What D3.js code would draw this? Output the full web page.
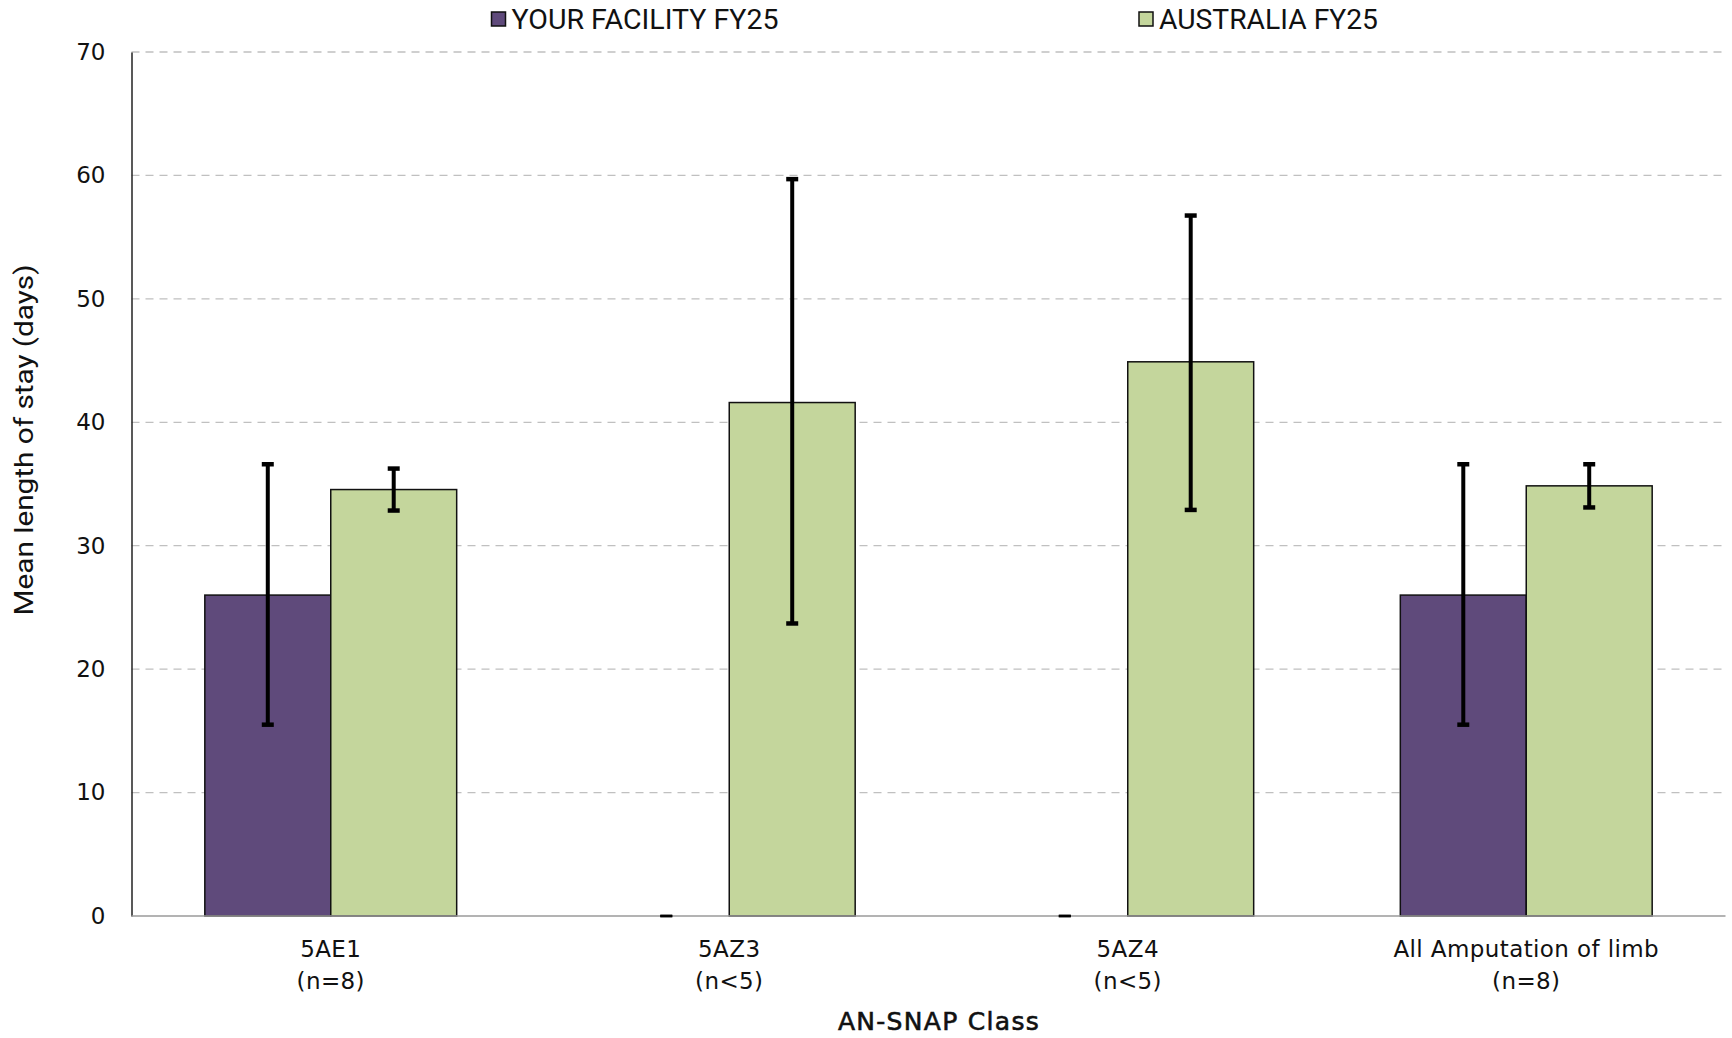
<!DOCTYPE html>
<html><head><meta charset="utf-8">
<script src="https://cdn.jsdelivr.net/npm/d3@7"></script>
<style>
html,body{margin:0;padding:0;background:#fff;}
svg{display:block;}
</style></head>
<body>
<script>
const categories = ["5AE1", "5AZ3", "5AZ4", "All Amputation of limb"];
const categoryCounts = ["(n=8)", "(n<5)", "(n<5)", "(n=8)"];
const seriesNames = ["YOUR FACILITY FY25", "AUSTRALIA FY25"];
const facilityValues = [26, 0, 0, 26];
const facilityLow = [15.5, 0, 0, 15.5];
const facilityHigh = [36.6, 0, 0, 36.6];
const australiaValues = [34.55, 41.6, 44.9, 34.85];
const australiaLow = [32.85, 23.7, 32.9, 33.1];
const australiaHigh = [36.25, 59.7, 56.75, 36.6];
const yTicks = [0, 10, 20, 30, 40, 50, 60, 70];
const colors = ["#5f4a7b", "#c4d69c"];

const W = 1732, H = 1038;
const m = {left: 131.5, right: 1725.5, top: 52, bottom: 916};
const svg = d3.select("body").append("svg").attr("width", W).attr("height", H);

const x0 = d3.scaleBand().domain(categories).range([m.left, m.right]).paddingInner(0.368).paddingOuter(0.184);
const x1 = d3.scaleBand().domain(seriesNames).range([0, x0.bandwidth()]);
const y = d3.scaleLinear().domain([0, 70]).range([m.bottom, m.top]);

const fontWide = "'DejaVu Sans', 'Lato', sans-serif";
const fontCond = "'Roboto', 'Liberation Sans Narrow', sans-serif";

// gridlines
svg.append("g").selectAll("line").data(yTicks.filter(d => d > 0)).join("line")
  .attr("x1", m.left).attr("x2", m.right)
  .attr("y1", d => y(d)).attr("y2", d => y(d))
  .attr("stroke", "#c0c0c0").attr("stroke-width", 1.3).attr("stroke-dasharray", "8,6");

// y axis
const yAxis = d3.axisLeft(y).tickValues(yTicks).tickSize(0).tickPadding(26).tickFormat(d3.format("d"));
const gy = svg.append("g").attr("transform", `translate(${m.left},0)`).call(yAxis);
gy.select(".domain").attr("stroke", "#222").attr("stroke-width", 1.5);
gy.selectAll("text").attr("font-family", fontWide).attr("font-size", 23).attr("fill", "#111");

const series = [
  {name: seriesNames[0], vals: facilityValues, lo: facilityLow, hi: facilityHigh, color: colors[0]},
  {name: seriesNames[1], vals: australiaValues, lo: australiaLow, hi: australiaHigh, color: colors[1]}
];

const rows = [];
series.forEach(s => categories.forEach((c, i) => rows.push({c, s: s.name, v: s.vals[i], lo: s.lo[i], hi: s.hi[i], color: s.color})));

// bars
svg.append("g").selectAll("rect").data(rows.filter(r => r.v > 0)).join("rect")
  .attr("x", r => x0(r.c) + x1(r.s))
  .attr("y", r => y(r.v))
  .attr("width", x1.bandwidth())
  .attr("height", r => y(0) - y(r.v))
  .attr("fill", r => r.color)
  .attr("stroke", "#111").attr("stroke-width", 1.5);

// x axis baseline
svg.append("line").attr("x1", m.left).attr("x2", m.right).attr("y1", y(0)).attr("y2", y(0))
  .attr("stroke", "#9a9a9a").attr("stroke-width", 1.5);

// error bars
const eg = svg.append("g");
const capW = 12;
rows.forEach(r => {
  const cx = x0(r.c) + x1(r.s) + x1.bandwidth() / 2;
  if (r.hi > r.lo) {
    eg.append("line").attr("x1", cx).attr("x2", cx).attr("y1", y(r.hi)).attr("y2", y(r.lo))
      .attr("stroke", "#000").attr("stroke-width", 4);
  }
  [r.hi, r.lo].forEach(v => {
    eg.append("line").attr("x1", cx - capW / 2).attr("x2", cx + capW / 2).attr("y1", y(v)).attr("y2", y(v))
      .attr("stroke", "#000").attr("stroke-width", r.hi > r.lo ? 4.5 : 2.5);
  });
});

// x labels
const xl = svg.append("g");
categories.forEach((c, i) => {
  const cx = x0(c) + x0.bandwidth() / 2;
  xl.append("text").attr("x", cx).attr("y", 957).attr("text-anchor", "middle")
    .attr("font-family", fontWide).attr("font-size", 23).attr("letter-spacing", 0.4).attr("fill", "#111").text(c);
  xl.append("text").attr("x", cx).attr("y", 989).attr("text-anchor", "middle")
    .attr("font-family", fontWide).attr("font-size", 23).attr("letter-spacing", 0.4).attr("fill", "#111").text(categoryCounts[i]);
});

// axis titles
svg.append("text").attr("x", 939).attr("y", 1030).attr("text-anchor", "middle")
  .attr("font-family", fontWide).attr("font-size", 25).attr("letter-spacing", 1.3).attr("fill", "#111")
  .attr("stroke", "#111").attr("stroke-width", 0.6).text("AN-SNAP Class");
svg.append("text").attr("transform", `translate(33,${440}) rotate(-90)`).attr("text-anchor", "middle")
  .attr("font-family", fontCond).attr("font-size", 26).attr("fill", "#111")
  .attr("textLength", 351).attr("lengthAdjust", "spacingAndGlyphs").text("Mean length of stay (days)");

// legend
const legendX = [491.5, 1139];
const legendLen = [267, 219];
seriesNames.forEach((n, i) => {
  const g = svg.append("g").attr("transform", `translate(${legendX[i]},12)`);
  g.append("rect").attr("x", 0).attr("y", 0).attr("width", 14).attr("height", 14)
    .attr("fill", colors[i]).attr("stroke", "#111").attr("stroke-width", 1.5);
  g.append("text").attr("x", 20).attr("y", 17).attr("font-family", fontCond).attr("font-size", 27)
    .attr("textLength", legendLen[i]).attr("lengthAdjust", "spacingAndGlyphs")
    .attr("fill", "#111").text(n);
});
</script>
</body></html>
